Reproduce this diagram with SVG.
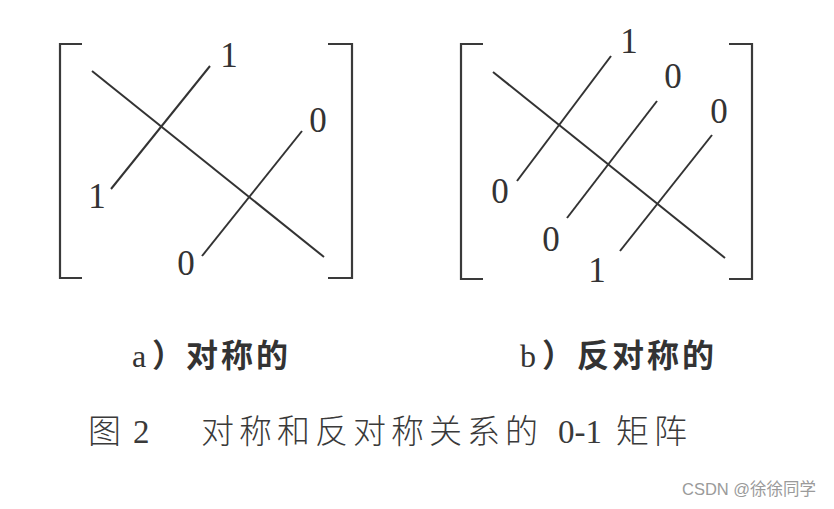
<svg xmlns="http://www.w3.org/2000/svg" width="834" height="509" viewBox="0 0 834 509">
<style>
.ln{stroke:#333;stroke-width:2;fill:none;stroke-linecap:butt}
.br{stroke:#3a3a3a;stroke-width:2.2;fill:none}
.d{font-family:"Liberation Serif","DejaVu Serif",serif;font-size:35px;fill:#333;text-anchor:middle}
.c1{font-family:"Noto Sans CJK SC","Liberation Sans",sans-serif;font-size:32px;font-weight:bold;fill:#333}
.c1l{font-family:"Liberation Serif",serif;font-size:32px;fill:#333}
.c2{font-family:"Noto Sans CJK SC","Liberation Sans",sans-serif;font-size:33px;font-weight:300;fill:#3a3a3a}
.c2l{font-family:"Liberation Serif",serif;font-size:33px;fill:#3a3a3a}
.wm{font-family:"Liberation Sans","Noto Sans CJK SC",sans-serif;font-size:16.5px;fill:#9a9a9a}
</style>
<rect width="834" height="509" fill="#ffffff"/>
<g id="matrix-a">
  <g id="brackets-a">
    <path class="br" d="M82 44 H60 V278 H82"/>
    <path class="br" d="M328 44 H352 V278 H328"/>
  </g>
  <g id="connectors-a">
    <line class="ln" x1="92" y1="71" x2="324" y2="257"/>
    <line class="ln" x1="111" y1="189" x2="210" y2="66"/>
    <line class="ln" x1="202" y1="256" x2="302" y2="131"/>
  </g>
  <g id="labels-a">
    <text class="d" x="229" y="67">1</text>
    <text class="d" x="97" y="208">1</text>
    <text class="d" x="318" y="132">0</text>
    <text class="d" x="186" y="275">0</text>
  </g>
</g>
<g id="matrix-b">
  <g id="brackets-b">
    <path class="br" d="M483 44 H461 V279 H483"/>
    <path class="br" d="M729 44 H752 V279 H729"/>
  </g>
  <g id="connectors-b">
    <line class="ln" x1="493" y1="72" x2="725" y2="258"/>
    <line class="ln" x1="517" y1="181" x2="611" y2="56"/>
    <line class="ln" x1="567" y1="218" x2="657" y2="101"/>
    <line class="ln" x1="620" y1="251" x2="712" y2="135"/>
  </g>
  <g id="labels-b">
    <text class="d" x="629" y="53">1</text>
    <text class="d" x="673" y="88">0</text>
    <text class="d" x="719" y="123">0</text>
    <text class="d" x="500" y="203">0</text>
    <text class="d" x="551" y="251">0</text>
    <text class="d" x="597" y="282">1</text>
  </g>
</g>
<g id="captions">
  <text class="c1l" x="132" y="367">a</text>
  <text class="c1" x="152" y="367">）</text>
  <text class="c1" x="186" y="367" letter-spacing="3">对称的</text>
  <text class="c1l" x="520" y="367">b</text>
  <text class="c1" x="542" y="367">）</text>
  <text class="c1" x="577" y="367" letter-spacing="3">反对称的</text>
  <text class="c2" x="88" y="443">图</text>
  <text class="c2l" x="133" y="443">2</text>
  <text class="c2" x="201" y="443" letter-spacing="5">对称和反对称关系的</text>
  <text class="c2l" x="558" y="443">0-1</text>
  <text class="c2" x="616" y="443" letter-spacing="5">矩阵</text>
</g>
<text class="wm" x="682" y="495">CSDN @徐徐同学</text>
</svg>
